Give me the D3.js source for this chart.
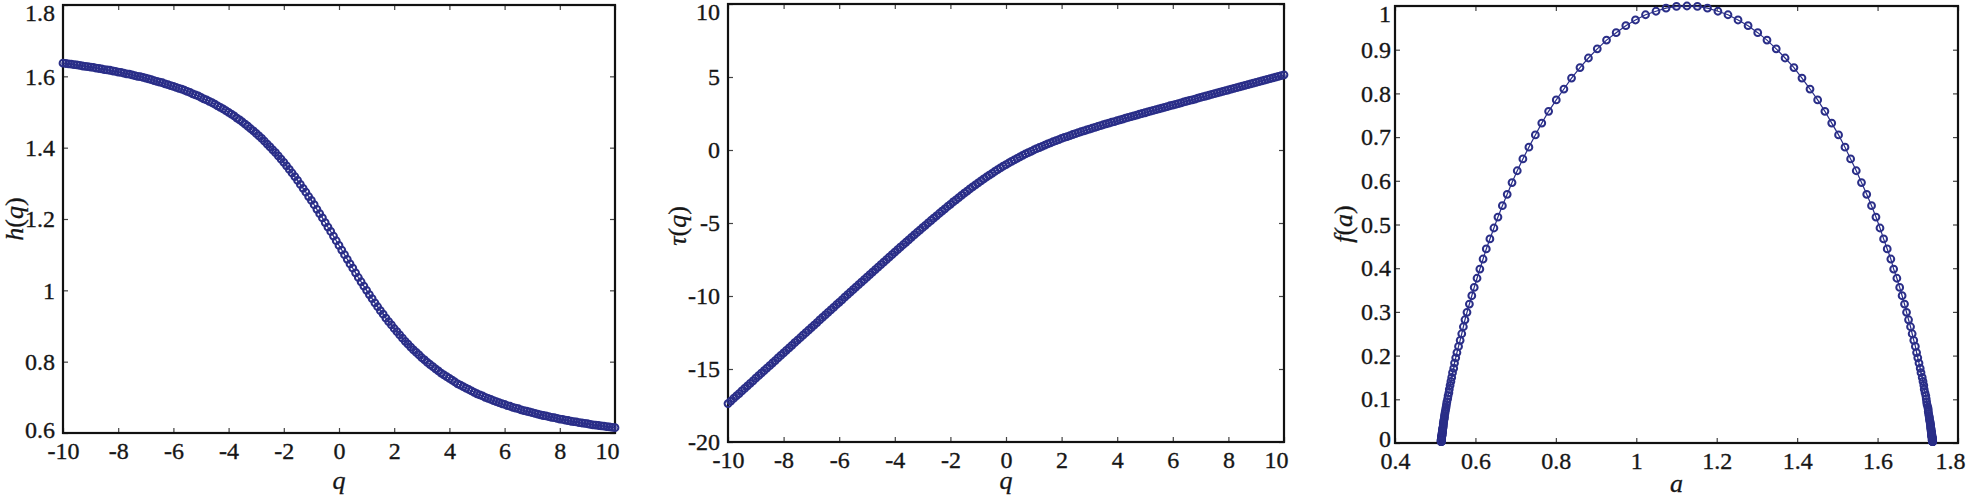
<!DOCTYPE html>
<html>
<head>
<meta charset="utf-8">
<script src="https://cdn.jsdelivr.net/npm/d3@7"></script>
<style>
  body { margin: 0; background: #fff; }
  svg { display: block; background: #fff; }
  svg text { font-family: "Liberation Serif", "DejaVu Serif", serif; }
</style>
</head>
<body>
<svg id="chart" width="1969" height="499"></svg>
<script>
// Multifractal spectrum: h(q), tau(q) and f(a)

const qValues = [
  -10,-9.9,-9.8,-9.7,-9.6,-9.5,-9.4,-9.3,-9.2,-9.1,
  -9,-8.9,-8.8,-8.7,-8.6,-8.5,-8.4,-8.3,-8.2,-8.1,
  -8,-7.9,-7.8,-7.7,-7.6,-7.5,-7.4,-7.3,-7.2,-7.1,
  -7,-6.9,-6.8,-6.7,-6.6,-6.5,-6.4,-6.3,-6.2,-6.1,
  -6,-5.9,-5.8,-5.7,-5.6,-5.5,-5.4,-5.3,-5.2,-5.1,
  -5,-4.9,-4.8,-4.7,-4.6,-4.5,-4.4,-4.3,-4.2,-4.1,
  -4,-3.9,-3.8,-3.7,-3.6,-3.5,-3.4,-3.3,-3.2,-3.1,
  -3,-2.9,-2.8,-2.7,-2.6,-2.5,-2.4,-2.3,-2.2,-2.1,
  -2,-1.9,-1.8,-1.7,-1.6,-1.5,-1.4,-1.3,-1.2,-1.1,
  -1,-0.9,-0.8,-0.7,-0.6,-0.5,-0.4,-0.3,-0.2,-0.1,
  0,
  0.1,0.2,0.3,0.4,0.5,0.6,0.7,0.8,0.9,1,
  1.1,1.2,1.3,1.4,1.5,1.6,1.7,1.8,1.9,2,
  2.1,2.2,2.3,2.4,2.5,2.6,2.7,2.8,2.9,3,
  3.1,3.2,3.3,3.4,3.5,3.6,3.7,3.8,3.9,4,
  4.1,4.2,4.3,4.4,4.5,4.6,4.7,4.8,4.9,5,
  5.1,5.2,5.3,5.4,5.5,5.6,5.7,5.8,5.9,6,
  6.1,6.2,6.3,6.4,6.5,6.6,6.7,6.8,6.9,7,
  7.1,7.2,7.3,7.4,7.5,7.6,7.7,7.8,7.9,8,
  8.1,8.2,8.3,8.4,8.5,8.6,8.7,8.8,8.9,9,
  9.1,9.2,9.3,9.4,9.5,9.6,9.7,9.8,9.9,10
];

const hValues = [
  1.637,1.636,1.635,1.634,1.633,1.632,1.631,1.629,1.628,1.627,
  1.626,1.625,1.623,1.622,1.621,1.619,1.618,1.617,1.615,1.614,
  1.612,1.611,1.609,1.607,1.606,1.604,1.602,1.600,1.599,1.597,
  1.595,1.593,1.591,1.588,1.586,1.584,1.582,1.579,1.577,1.574,
  1.572,1.569,1.566,1.564,1.561,1.558,1.555,1.551,1.548,1.545,
  1.541,1.537,1.534,1.530,1.526,1.522,1.517,1.513,1.509,1.504,
  1.499,1.494,1.489,1.483,1.478,1.472,1.466,1.460,1.453,1.447,
  1.440,1.433,1.426,1.418,1.410,1.402,1.394,1.386,1.377,1.368,
  1.359,1.349,1.339,1.329,1.319,1.308,1.297,1.286,1.275,1.263,
  1.252,1.240,1.227,1.215,1.203,1.190,1.177,1.165,1.152,1.139,
  1.126,
  1.113,1.100,1.087,1.074,1.062,1.049,1.036,1.024,1.012,1.000,
  0.988,0.977,0.965,0.954,0.943,0.933,0.922,0.912,0.903,0.893,
  0.884,0.875,0.866,0.857,0.849,0.841,0.833,0.826,0.819,0.811,
  0.805,0.798,0.792,0.786,0.780,0.774,0.768,0.763,0.758,0.753,
  0.748,0.743,0.738,0.734,0.730,0.726,0.722,0.718,0.714,0.710,
  0.707,0.704,0.700,0.697,0.694,0.691,0.688,0.685,0.682,0.680,
  0.677,0.675,0.672,0.670,0.668,0.665,0.663,0.661,0.659,0.657,
  0.655,0.653,0.651,0.649,0.648,0.646,0.644,0.643,0.641,0.639,
  0.638,0.636,0.635,0.633,0.632,0.631,0.629,0.628,0.627,0.626,
  0.624,0.623,0.622,0.621,0.620,0.619,0.618,0.617,0.616,0.615
];

const tauValues = [
  -17.37,-17.20,-17.02,-16.85,-16.68,-16.50,-16.33,-16.15,-15.98,-15.81,
  -15.63,-15.46,-15.29,-15.11,-14.94,-14.77,-14.59,-14.42,-14.24,-14.07,
  -13.90,-13.72,-13.55,-13.38,-13.20,-13.03,-12.86,-12.68,-12.51,-12.34,
  -12.16,-11.99,-11.82,-11.64,-11.47,-11.30,-11.12,-10.95,-10.78,-10.60,
  -10.43,-10.26,-10.08,-9.91,-9.74,-9.57,-9.39,-9.22,-9.05,-8.88,
  -8.71,-8.53,-8.36,-8.19,-8.02,-7.85,-7.68,-7.51,-7.34,-7.17,
  -7.00,-6.83,-6.66,-6.49,-6.32,-6.15,-5.98,-5.82,-5.65,-5.49,
  -5.32,-5.16,-4.99,-4.83,-4.67,-4.51,-4.35,-4.19,-4.03,-3.87,
  -3.72,-3.56,-3.41,-3.26,-3.11,-2.96,-2.82,-2.67,-2.53,-2.39,
  -2.25,-2.12,-1.98,-1.85,-1.72,-1.60,-1.47,-1.35,-1.23,-1.11,
  -1.00,
  -0.89,-0.78,-0.67,-0.57,-0.47,-0.37,-0.27,-0.18,-0.09,0.00,
  0.09,0.17,0.25,0.34,0.42,0.49,0.57,0.64,0.71,0.79,
  0.86,0.92,0.99,1.06,1.12,1.19,1.25,1.31,1.37,1.43,
  1.49,1.55,1.61,1.67,1.73,1.79,1.84,1.90,1.95,2.01,
  2.07,2.12,2.18,2.23,2.28,2.34,2.39,2.45,2.50,2.55,
  2.61,2.66,2.71,2.76,2.82,2.87,2.92,2.97,3.03,3.08,
  3.13,3.18,3.23,3.29,3.34,3.39,3.44,3.49,3.55,3.60,
  3.65,3.70,3.75,3.81,3.86,3.91,3.96,4.01,4.06,4.11,
  4.17,4.22,4.27,4.32,4.37,4.42,4.48,4.53,4.58,4.63,
  4.68,4.73,4.78,4.84,4.89,4.94,4.99,5.04,5.09,5.15
];

const alphaValues = [
  1.737,1.737,1.737,1.737,1.737,1.737,1.737,1.737,1.736,1.736,
  1.736,1.736,1.736,1.736,1.736,1.736,1.736,1.736,1.736,1.736,
  1.736,1.735,1.735,1.735,1.735,1.735,1.735,1.734,1.734,1.734,
  1.734,1.733,1.733,1.733,1.732,1.732,1.732,1.731,1.731,1.730,
  1.729,1.729,1.728,1.727,1.726,1.726,1.725,1.723,1.722,1.721,
  1.720,1.718,1.716,1.715,1.713,1.711,1.708,1.706,1.703,1.700,
  1.697,1.694,1.690,1.686,1.682,1.677,1.672,1.667,1.661,1.655,
  1.648,1.640,1.633,1.624,1.615,1.606,1.596,1.585,1.573,1.560,
  1.547,1.533,1.519,1.503,1.486,1.469,1.451,1.432,1.412,1.392,
  1.370,1.348,1.325,1.302,1.278,1.253,1.228,1.203,1.177,1.152,
  1.126,
  1.100,1.074,1.049,1.023,0.998,0.974,0.950,0.926,0.903,0.881,
  0.860,0.839,0.820,0.801,0.782,0.765,0.749,0.733,0.718,0.704,
  0.691,0.679,0.667,0.656,0.646,0.636,0.627,0.619,0.611,0.604,
  0.597,0.591,0.585,0.579,0.574,0.570,0.566,0.562,0.558,0.554,
  0.551,0.548,0.546,0.543,0.541,0.539,0.537,0.535,0.534,0.532,
  0.531,0.529,0.528,0.527,0.526,0.525,0.524,0.523,0.523,0.522,
  0.521,0.521,0.520,0.520,0.520,0.519,0.519,0.518,0.518,0.518,
  0.518,0.517,0.517,0.517,0.517,0.517,0.516,0.516,0.516,0.516,
  0.516,0.516,0.516,0.516,0.515,0.515,0.515,0.515,0.515,0.515,
  0.515,0.515,0.515,0.515,0.515,0.515,0.515,0.515,0.515,0.515
];

const fValues = [
  0.003,0.003,0.003,0.004,0.004,0.004,0.004,0.005,0.005,0.006,
  0.006,0.007,0.007,0.008,0.008,0.009,0.009,0.010,0.011,0.012,
  0.013,0.014,0.015,0.016,0.017,0.018,0.020,0.021,0.023,0.025,
  0.026,0.028,0.031,0.033,0.035,0.038,0.041,0.044,0.047,0.050,
  0.054,0.058,0.062,0.067,0.072,0.077,0.082,0.088,0.094,0.101,
  0.108,0.115,0.123,0.132,0.141,0.150,0.161,0.171,0.183,0.195,
  0.207,0.221,0.235,0.250,0.266,0.282,0.299,0.318,0.337,0.356,
  0.377,0.398,0.421,0.444,0.467,0.492,0.517,0.543,0.569,0.596,
  0.623,0.650,0.677,0.705,0.732,0.759,0.785,0.810,0.835,0.859,
  0.881,0.902,0.922,0.939,0.955,0.968,0.980,0.988,0.995,0.999,
  1.000,
  0.999,0.995,0.988,0.980,0.968,0.955,0.939,0.922,0.902,0.881,
  0.859,0.835,0.810,0.785,0.759,0.732,0.705,0.677,0.650,0.623,
  0.596,0.569,0.543,0.517,0.492,0.467,0.444,0.421,0.398,0.377,
  0.356,0.337,0.318,0.299,0.282,0.266,0.250,0.235,0.221,0.207,
  0.195,0.183,0.171,0.161,0.150,0.141,0.132,0.123,0.115,0.108,
  0.101,0.094,0.088,0.082,0.077,0.072,0.067,0.062,0.058,0.054,
  0.050,0.047,0.044,0.041,0.038,0.035,0.033,0.031,0.028,0.026,
  0.025,0.023,0.021,0.020,0.018,0.017,0.016,0.015,0.014,0.013,
  0.012,0.011,0.010,0.009,0.009,0.008,0.008,0.007,0.007,0.006,
  0.006,0.005,0.005,0.004,0.004,0.004,0.004,0.003,0.003,0.003
];

const qTicks = [-10, -8, -6, -4, -2, 0, 2, 4, 6, 8, 10];
const hTicks = [0.6, 0.8, 1, 1.2, 1.4, 1.6, 1.8];
const tauTicks = [-20, -15, -10, -5, 0, 5, 10];
const alphaTicks = [0.4, 0.6, 0.8, 1, 1.2, 1.4, 1.6, 1.8];
const fTicks = [0, 0.1, 0.2, 0.3, 0.4, 0.5, 0.6, 0.7, 0.8, 0.9, 1];

const MARK = '#2a2e88';
const INK = '#161616';
const FONT = 'Liberation Serif, DejaVu Serif, serif';

const panels = [
    {
        xs: qValues, ys: hValues,
        xDomain: [-10, 10], yDomain: [0.6, 1.8],
        xTicks: qTicks, yTicks: hTicks,
        box: { left: 63, top: 5, right: 615, bottom: 433 },
        yPad: 8, lowLabelShift: -3,
        xLabel: { parts: [['q', true]], y: 489 },
        // rotated labels: x is the baseline position
        yLabel: { parts: [['h', true], ['(', false], ['q', true], [')', false]], x: 23, y: 219 }
    },
    {
        xs: qValues, ys: tauValues,
        xDomain: [-10, 10], yDomain: [-20, 10],
        xTicks: qTicks, yTicks: tauTicks,
        box: { left: 728, top: 4, right: 1284, bottom: 442 },
        yPad: 8, lowLabelShift: 0,
        xLabel: { parts: [['q', true]], y: 489 },
        yLabel: { parts: [['τ', true], ['(', false], ['q', true], [')', false]], x: 686, y: 226 }
    },
    {
        xs: alphaValues, ys: fValues,
        xDomain: [0.4, 1.8], yDomain: [0, 1],
        xTicks: alphaTicks, yTicks: fTicks,
        box: { left: 1395, top: 6, right: 1958, bottom: 443 },
        yPad: 4, lowLabelShift: -4,
        xLabel: { parts: [['a', true]], y: 492 },
        yLabel: { parts: [['f', true], ['(', false], ['a', true], [')', false]], x: 1352, y: 224 }
    }
];

const svg = d3.select('#chart');
const fmt = d => String(+d.toFixed(1));

function styleAxis(sel) {
    sel.attr('font-family', null);
    sel.select('.domain').remove();
    sel.selectAll('.tick line')
        .attr('stroke', '#444')
        .attr('stroke-width', 1.2);
    sel.selectAll('text')
        .style('font-family', FONT)
        .attr('font-size', 24)
        .attr('fill', INK)
        .attr('stroke', INK)
        .attr('stroke-width', 0.35);
}

function addLabel(label, cx, cy, rotate) {
    const t = svg.append('text')
        .attr('text-anchor', 'middle')
        .style('font-family', FONT)
        .attr('font-size', 26)
        .attr('fill', INK)
        .attr('stroke', INK)
        .attr('stroke-width', 0.3);
    if (rotate) {
        t.attr('transform', `translate(${cx},${cy}) rotate(-90)`);
    } else {
        t.attr('x', cx).attr('y', cy);
    }
    label.parts.forEach(([s, italic]) => {
        t.append('tspan')
            .attr('font-style', italic ? 'italic' : 'normal')
            .text(s);
    });
}

function drawPanel(p) {
    const w = p.box.right - p.box.left;
    const h = p.box.bottom - p.box.top;

    const g = svg.append('g')
        .attr('transform', `translate(${p.box.left},${p.box.top})`);

    const x = d3.scaleLinear().domain(p.xDomain).range([0, w]);
    const y = d3.scaleLinear().domain(p.yDomain).range([h, 0]);

    // ticks point inwards on all four sides
    const bottom = g.append('g')
        .attr('transform', `translate(0,${h})`)
        .call(d3.axisBottom(x).tickValues(p.xTicks).tickSize(-5).tickPadding(9).tickFormat(fmt))
        .call(styleAxis);
    // last label sits a bit left of its tick in the original
    bottom.selectAll('.tick')
        .filter(d => d === p.xDomain[1])
        .select('text')
        .attr('x', -8);

    g.append('g')
        .call(d3.axisTop(x).tickValues(p.xTicks).tickSize(-5))
        .call(styleAxis)
        .selectAll('text').remove();

    const left = g.append('g')
        .call(d3.axisLeft(y).tickValues(p.yTicks).tickSize(-5).tickPadding(p.yPad).tickFormat(fmt))
        .call(styleAxis);
    // keep the top label inside the picture, lift the lowest one a little
    left.selectAll('.tick')
        .filter(d => y(d) < 8)
        .select('text')
        .attr('y', d => 8 - y(d));
    left.selectAll('.tick')
        .filter(d => d === p.yDomain[0])
        .select('text')
        .attr('y', p.lowLabelShift);

    g.append('g')
        .attr('transform', `translate(${w},0)`)
        .call(d3.axisRight(y).tickValues(p.yTicks).tickSize(-5))
        .call(styleAxis)
        .selectAll('text').remove();

    // frame
    g.append('rect')
        .attr('width', w)
        .attr('height', h)
        .attr('fill', 'none')
        .attr('stroke', '#111')
        .attr('stroke-width', 2.2);

    const pts = p.xs.map((v, i) => [v, p.ys[i]]);

    const line = d3.line()
        .x(d => x(d[0]))
        .y(d => y(d[1]));

    g.append('path')
        .datum(pts)
        .attr('d', line)
        .attr('fill', 'none')
        .attr('stroke', MARK)
        .attr('stroke-width', 1.2);

    g.selectAll('circle.pt')
        .data(pts)
        .join('circle')
        .attr('class', 'pt')
        .attr('cx', d => x(d[0]))
        .attr('cy', d => y(d[1]))
        .attr('r', 3.4)
        .attr('fill', 'none')
        .attr('stroke', MARK)
        .attr('stroke-width', 2);

    addLabel(p.xLabel, (p.box.left + p.box.right) / 2, p.xLabel.y, false);
    addLabel(p.yLabel, p.yLabel.x, p.yLabel.y, true);
}

panels.forEach(drawPanel);
</script>
</body>
</html>
